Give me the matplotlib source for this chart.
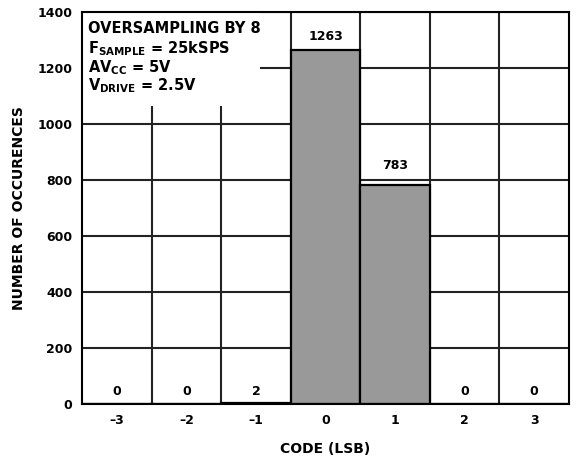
import matplotlib
matplotlib.use("Agg")
import matplotlib.pyplot as plt
from matplotlib.patches import Rectangle

plt.rcParams['font.family'] = ['DejaVu Sans']
plt.rcParams['font.weight'] = 'bold'
plt.rcParams['mathtext.fontset'] = 'custom'
plt.rcParams['mathtext.rm'] = 'DejaVu Sans:bold'
plt.rcParams['mathtext.bf'] = 'DejaVu Sans:bold'
plt.rcParams['mathtext.it'] = 'DejaVu Sans:bold'

# histogram of output codes
codes = [-3, -2, -1, 0, 1, 2, 3]
code_labels = ['\u20133', '\u20132', '\u20131', '0', '1', '2', '3']
counts = [0, 0, 2, 1263, 783, 0, 0]
yticks = [0, 200, 400, 600, 800, 1000, 1200, 1400]

notes = [r'OVERSAMPLING BY 8',
         r'F$_{\mathrm{SAMPLE}}$ = 25kSPS',
         r'AV$_{\mathrm{CC}}$ = 5V',
         r'V$_{\mathrm{DRIVE}}$ = 2.5V']

# label lift above bar top (points)
lift = [4, 4, 4, 5, 9, 4, 4]

fig = plt.figure(figsize=(5.84, 4.59), dpi=100)
ax = fig.add_axes([82/584, 1 - 404/459, (569-82)/584, (404-12)/459])

ax.bar(codes, counts, width=1.0, color='#999999', edgecolor='black',
       linewidth=1.6, zorder=2)
for c, n, d in zip(codes, counts, lift):
    ax.annotate(str(n), (c, n), xytext=(0, d), textcoords='offset points',
                ha='center', va='bottom', fontsize=9, fontweight='bold')

ax.set_xlim(-3.5, 3.5)
ax.set_ylim(0, 1400)
ax.set_xticks(codes)
ax.set_xticklabels(code_labels)
ax.set_yticks(yticks)
ax.set_xticks([c + 0.5 for c in codes[:-1]], minor=True)
ax.tick_params(which='both', length=0, labelsize=9, pad=7)
ax.grid(True, which='minor', axis='x', color='#222222', linewidth=1.5)
ax.grid(True, which='major', axis='y', color='#222222', linewidth=1.5)
ax.set_axisbelow(True)
for s in ax.spines.values():
    s.set_linewidth(1.5)

# white legend area hiding grid lines
ax.add_patch(Rectangle((-3.5, 1065), 2.56, 335, facecolor='white',
                       edgecolor='none', zorder=1))
for i, t in enumerate(notes):
    ax.text(0.012, 0.977 - i * 0.047, t, transform=ax.transAxes,
            ha='left', va='top', fontsize=10.5, fontweight='bold')

ax.set_xlabel('CODE (LSB)', fontsize=10, fontweight='bold', labelpad=11)
ax.set_ylabel('NUMBER OF OCCURENCES', fontsize=10, fontweight='bold', labelpad=8)

fig.savefig('out.png', dpi=100)
